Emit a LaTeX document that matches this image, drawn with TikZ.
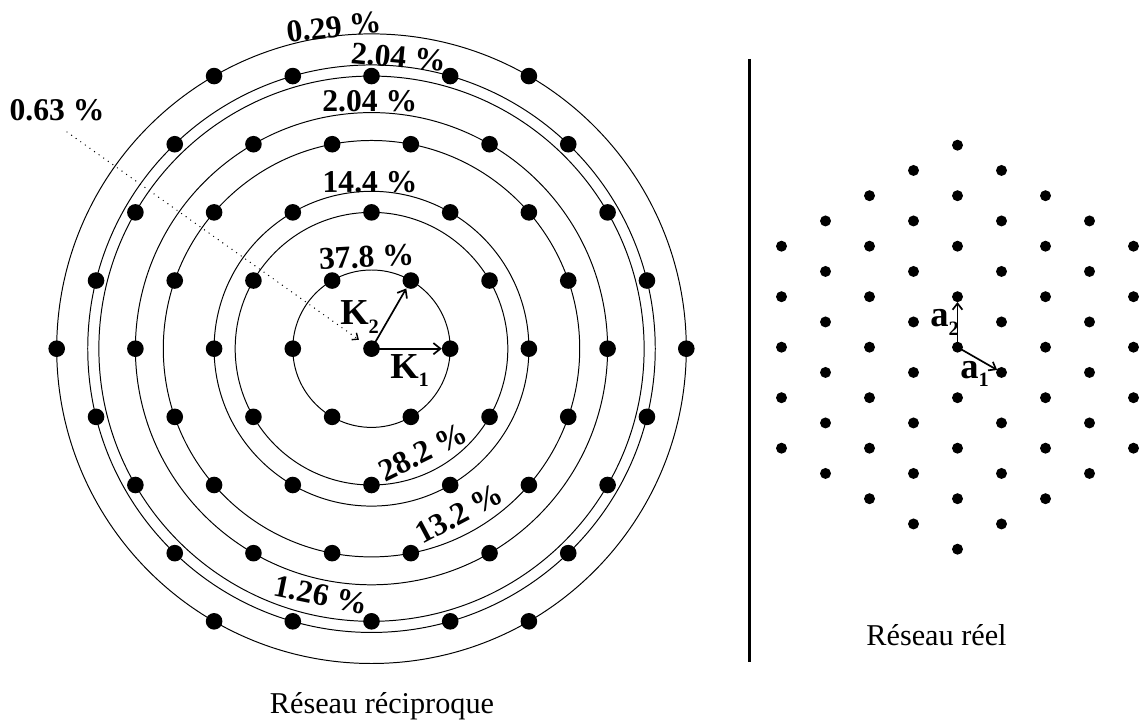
\documentclass[tikz,border=0pt]{standalone}
\usepackage{fontspec}
\setmainfont{Liberation Serif}
\usetikzlibrary{arrows.meta}

\newcommand{\kk}{78.7}
\newcommand{\vsub}[1]{\raisebox{-6pt}{\fontsize{14.5}{15}\selectfont #1}}

\tikzset{
  pct/.style={font=\fontsize{22.5}{26}\selectfont\bfseries, inner sep=0pt, anchor=base},
  vecname/.style={font=\fontsize{26}{30}\selectfont\bfseries, inner sep=0pt, anchor=base west},
  caption/.style={font=\fontsize{21.5}{26}\selectfont, inner sep=0pt, anchor=base},
  ring/.style={line width=0.7pt},
  vec/.style={->, line width=1.2pt},
}

\begin{document}
\begin{tikzpicture}[x=0.025cm, y=0.025cm, line join=round, >={Straight Barb[length=5pt,width=8pt]}]
    \useasboundingbox (-371.5,-372.3) rectangle (771.5,348.7);

    % 中心与基矢端点
    \coordinate (O) at (0,0);
    \coordinate (R) at (586,1.5);
    \coordinate (K1) at (\kk,0);
    \coordinate (K2) at ({\kk/2},{\kk*sqrt(3)/2});
    \coordinate (A1) at (630,-23.75);
    \coordinate (A2) at (586,52);
    \coordinate (s063) at (-304.5,216.7);
    \coordinate (sepT) at (377.8,289.7);
    \coordinate (sepB) at (377.8,-313.3);

    % 圆
    \foreach \n in {1,3,4,7,9,12,13,16}
        \draw[ring] (O) circle ({\kk*sqrt(\n)});

    % 倒易点阵
    \foreach \i in {-4,...,4}
        \foreach \j in {-4,...,4} {
            \pgfmathtruncatemacro{\nrm}{\i*\i+\i*\j+\j*\j}
            \ifnum\nrm<17
                \fill ({\kk*(\i+\j/2)},{\kk*\j*sqrt(3)/2}) circle (8.3);
            \fi
        }

    % 正点阵
    \foreach \c in {-4,...,4} {
        \pgfmathtruncatemacro{\kmax}{8-abs(\c)}
        \foreach \k in {0,...,\kmax}
            \fill[shift={(R)}] ({44*\c},{50.5*(-4+abs(\c)/2+\k)}) circle (5.5);
    }

    % 分隔线
    \draw[line width=1.8pt] (sepT) -- (sepB);

    % 基矢
    \draw[vec, shorten >=6pt] (O) -- (K1);
    \draw[vec, shorten >=6.5pt] (O) -- (K2);
    \draw[vec, shorten >=3.6pt, >={Straight Barb[length=4.5pt,width=7pt]}] (R) -- (A1);
    \draw[vec, shorten >=3.8pt, >={Straight Barb[length=4.5pt,width=7pt]}] (R) -- (A2);

    % 百分比
    \node[pct, rotate=6.7] (p029) at (96.7:313.6) {0.29 \%};
    \node[pct, rotate=-5.3] (p204a) at (84.7:282.4) {2.04 \%};
    \node[pct] (p204b) at (90.4:237) {2.04 \%};
    \node[pct, rotate=0.5] (p144) at (90.5:156.2) {14.4 \%};
    \node[pct, rotate=3] (p378) at (-4.5,81.5) {37.8 \%};
    \node[pct, rotate=26.5] (p282) at (-63.5:126) {28.2 \%};
    \node[pct, rotate=28] (p132) at (-62:197) {13.2 \%};
    \node[pct, rotate=-11.6] (p126) at (-101.6:261.6) {1.26 \%};
    \node[pct, anchor=center] (p063) at (-314.5,238.7) {0.63 \%};

    \draw[line width=1pt, line cap=round, dash pattern=on 0pt off 4pt,
          -{Straight Barb[length=3.5pt,width=6pt]}, shorten >=11pt] (s063) -- (O);

    % 标注
    \node[vecname] (labK1) at (18.5,-29.6) {K\vsub{1}};
    \node[vecname] (labK2) at (-31.5,23.7) {K\vsub{2}};
    \node[vecname] (laba1) at (588.5,-29.6) {a\vsub{1}};
    \node[vecname] (laba2) at (558.5,22) {a\vsub{2}};

    \node[caption] (cap1) at (10.5,-364.3) {Réseau réciproque};
    \node[caption] (cap2) at (565,-296.3) {Réseau réel};
\end{tikzpicture}
\end{document}
